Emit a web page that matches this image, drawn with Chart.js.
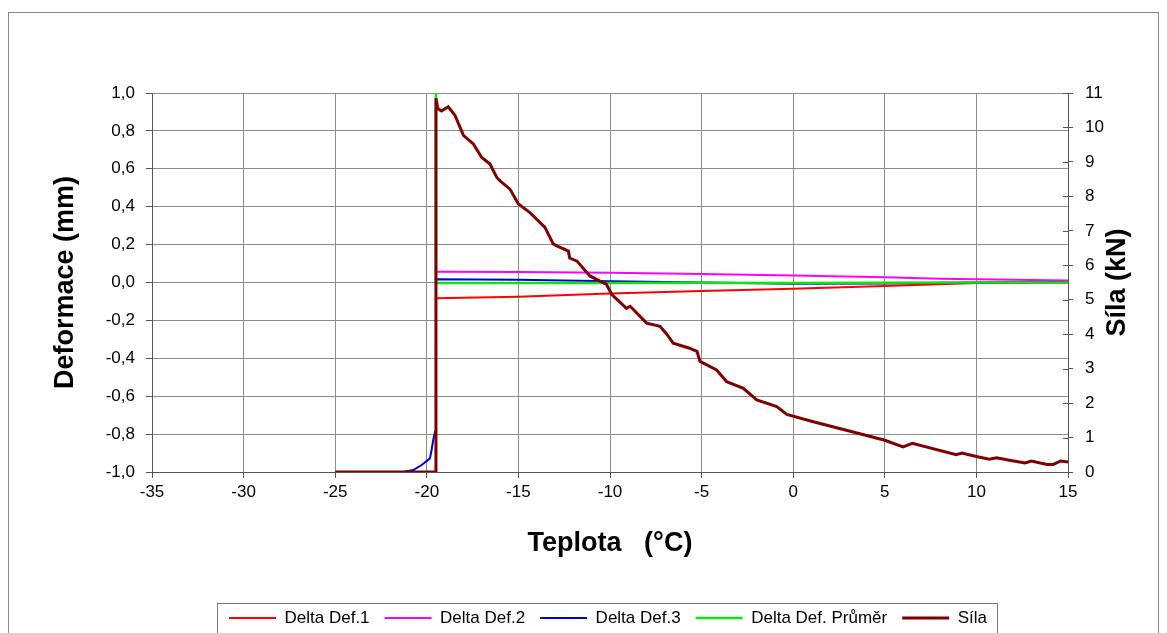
<!DOCTYPE html>
<html><head><meta charset="utf-8">
<script src="https://cdn.jsdelivr.net/npm/chart.js@4.4.1/dist/chart.umd.min.js"></script>
<style>html,body{margin:0;padding:0;background:#fff}canvas{display:block}</style>
</head><body>
<canvas id="c" width="1167" height="633"></canvas>
<script>
// ---- data ----
const seriesNames = ['Delta Def.1', 'Delta Def.2', 'Delta Def.3', 'Delta Def. Průměr', 'Síla'];
const xTitle = 'Teplota   (°C)';
const yTitle = 'Deformace (mm)';
const y2Title = 'Síla (kN)';

const def1Temp = [-19.5, -15, -10, -5, 0, 5, 10, 15];
const def1Val  = [-0.083, -0.075, -0.058, -0.045, -0.033, -0.018, -0.003, 0.0];

const def2Temp = [-19.5, -15, -10, -5, 0, 5, 8, 10, 12, 15];
const def2Val  = [0.057, 0.056, 0.052, 0.045, 0.037, 0.028, 0.02, 0.017, 0.015, 0.01];

const def3Temp = [-21.3, -20.74, -20.28, -19.83, -19.74, -19.65, -19.55, -19.5, -15, -10, -5, 0, 5, 10, 15];
const def3Val  = [-1.0, -0.99, -0.963, -0.928, -0.884, -0.831, -0.787, 0.017, 0.014, 0.006, 0.0, -0.006, -0.005, 0.0, 0.003];

const avgTemp = [-19.5, -19.5, -15, -10, -5, 0, 5, 10, 15];
const avgVal  = [1.0, -0.003, -0.002, -0.002, -0.001, -0.003, -0.001, 0.0, 0.0];

const silaTemp = [-25, -19.55, -19.5, -19.4, -19.2, -18.83, -18.46, -18.0, -17.46, -17.0,
                  -16.55, -16.18, -16.0, -15.46, -15.0, -14.37, -13.55, -13.1, -12.9, -12.27,
                  -12.2, -11.8, -11.1, -10.36, -10.2, -9.9, -9.1, -8.9, -8.0, -7.27,
                  -6.9, -6.55, -5.7, -5.25, -5.09, -4.18, -3.63, -2.72, -1.99, -0.9,
                  -0.35, 1.1, 2.9, 5.0, 6.0, 6.5, 8.9, 9.2, 10.0, 10.7,
                  11.1, 11.8, 12.65, 13.0, 13.85, 14.2, 14.6, 15];
const silaKN   = [0, 0, 10.85, 10.55, 10.48, 10.6, 10.35, 9.77, 9.52, 9.13,
                  8.94, 8.55, 8.45, 8.21, 7.78, 7.53, 7.1, 6.62, 6.56, 6.41,
                  6.21, 6.12, 5.69, 5.49, 5.45, 5.15, 4.75, 4.81, 4.32, 4.23,
                  4.0, 3.74, 3.6, 3.5, 3.21, 2.96, 2.62, 2.43, 2.09, 1.9,
                  1.67, 1.46, 1.21, 0.92, 0.73, 0.83, 0.5, 0.55, 0.45, 0.37,
                  0.41, 0.34, 0.26, 0.32, 0.22, 0.22, 0.32, 0.29];

const xMin = -35, xMax = 15, xStep = 5;
const yMin = -1, yMax = 1, yStep = 0.2;
const y2Min = 0, y2Max = 11, y2Step = 1;

// ---- chart ----
const pts = (xs, ys) => xs.map((x, i) => ({x, y: ys[i]}));
const FONT = '"Liberation Sans", Arial, sans-serif';
const fmt = v => (Math.abs(v) < 1e-9 ? 0 : v).toFixed(1).replace('.', ',');

const decor = {
  id: 'decor',
  afterDraw(chart) {
    const ctx = chart.ctx, a = chart.chartArea;
    ctx.save();
    ctx.strokeStyle = '#8a8a8a'; ctx.lineWidth = 1;
    ctx.strokeRect(8.5, 12.5, 1150, 660);
    const hb = chart.legend.legendHitBoxes;
    if (hb && hb.length) {
      const l = Math.min(...hb.map(h => h.left));
      const r = Math.max(...hb.map(h => h.left + h.width));
      const t = hb[0].top;
      ctx.strokeStyle = '#777';
      ctx.strokeRect(Math.round(l - 12) + 0.5, Math.round(t - 7) + 0.5, Math.round(r - l + 22), 60);
    }
    // inner half of right-axis ticks (they cross the axis)
    const s2 = chart.scales.y2;
    ctx.strokeStyle = '#555';
    s2.ticks.forEach(t => {
      const py = Math.round(s2.getPixelForValue(t.value)) + 0.5;
      ctx.beginPath(); ctx.moveTo(a.right - 5, py); ctx.lineTo(a.right, py); ctx.stroke();
    });
    ctx.translate(1118, (a.top + a.bottom) / 2);
    ctx.rotate(-Math.PI / 2);
    ctx.font = 'bold 27px ' + FONT;
    ctx.fillStyle = '#000'; ctx.textAlign = 'center'; ctx.textBaseline = 'middle';
    ctx.fillText(y2Title, 0, 0);
    ctx.restore();
  }
};

const common = {pointRadius: 0, pointHoverRadius: 0, tension: 0, fill: false};
new Chart(document.getElementById('c'), {
  type: 'line',
  data: {
    datasets: [
      {...common, label: seriesNames[0], data: pts(def1Temp, def1Val), borderColor: '#ff0000', backgroundColor: '#ff0000', borderWidth: 2, yAxisID: 'y', order: 4},
      {...common, label: seriesNames[1], data: pts(def2Temp, def2Val), borderColor: '#ff00ff', backgroundColor: '#ff00ff', borderWidth: 2, yAxisID: 'y', order: 3},
      {...common, label: seriesNames[2], data: pts(def3Temp, def3Val), borderColor: '#0000d8', backgroundColor: '#0000d8', borderWidth: 2, yAxisID: 'y', order: 2},
      {...common, label: seriesNames[3], data: pts(avgTemp, avgVal), borderColor: '#11e011', backgroundColor: '#11e011', borderWidth: 2.5, yAxisID: 'y', order: 1},
      {...common, label: seriesNames[4], data: pts(silaTemp, silaKN), borderColor: '#800000', backgroundColor: '#800000', borderWidth: 3, yAxisID: 'y2', order: 0}
    ]
  },
  options: {
    responsive: false, animation: false, devicePixelRatio: 1,
    layout: {padding: {left: 49, right: 0, top: 93, bottom: -3.5}},
    plugins: {
      legend: {
        position: 'bottom',
        labels: {
          usePointStyle: true, pointStyle: 'line', pointStyleWidth: 47, padding: 15,
          color: '#000', font: {family: FONT, size: 17},
          sort: (a, b) => a.datasetIndex - b.datasetIndex
        }
      },
      tooltip: {enabled: false}
    },
    scales: {
      x: {
        type: 'linear', min: xMin, max: xMax,
        afterFit: s => { s.height = 122.5; },
        ticks: {stepSize: xStep, color: '#000', font: {family: FONT, size: 17}, padding: 4, maxRotation: 0, autoSkip: false},
        grid: {color: '#8c8c8c', lineWidth: 1, tickLength: 6, tickColor: '#555'},
        border: {color: '#555'},
        title: {display: true, text: xTitle, color: '#000', font: {family: FONT, size: 27, weight: 'bold'}, padding: {top: 0, bottom: 35}}
      },
      y: {
        type: 'linear', position: 'left', min: yMin, max: yMax,
        afterFit: s => { s.width = 103; },
        ticks: {stepSize: yStep, color: '#000', font: {family: FONT, size: 17}, padding: 11, callback: v => fmt(v)},
        grid: {color: '#8c8c8c', lineWidth: 1, tickLength: 6, tickColor: '#555'},
        border: {color: '#555'},
        title: {display: true, text: yTitle, color: '#000', font: {family: FONT, size: 27, weight: 'bold'}, padding: {top: 0, bottom: 0}}
      },
      y2: {
        type: 'linear', position: 'right', min: y2Min, max: y2Max,
        afterFit: s => { s.width = 99; },
        ticks: {stepSize: y2Step, color: '#000', font: {family: FONT, size: 17}, padding: 12},
        grid: {drawOnChartArea: false, tickLength: 5, tickColor: '#555'},
        border: {color: '#555'}
      }
    }
  },
  plugins: [decor]
});
</script>
</body></html>
